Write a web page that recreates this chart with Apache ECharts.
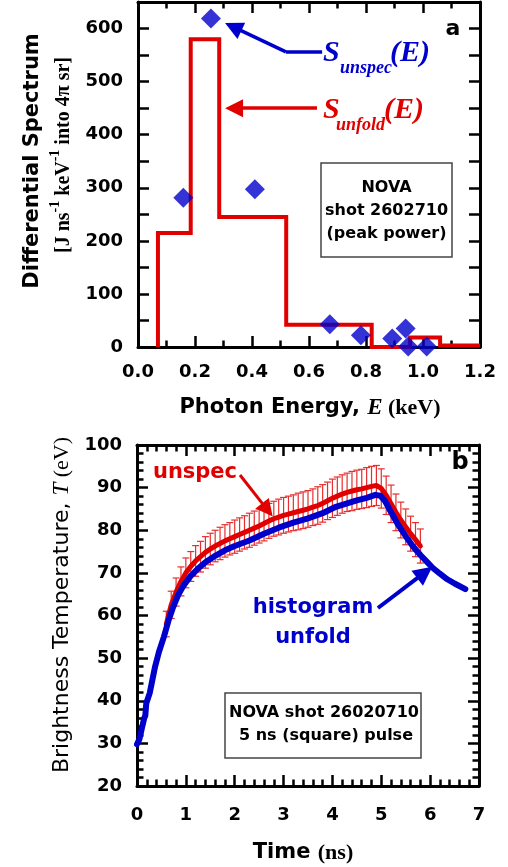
<!DOCTYPE html>
<html>
<head>
<meta charset="utf-8">
<script src="https://cdn.jsdelivr.net/npm/echarts@6/dist/echarts.min.js"></script>
<style>
html, body { margin: 0; padding: 0; background: #fff; }
#chart { width: 508px; height: 867px; }
</style>
</head>
<body>
<div id="chart"></div>
<script>
// panel a: histogram unfold (bin edges in keV, level of each bin)
const unfoldEdges = [0.07, 0.185, 0.285, 0.52, 0.82, 0.955, 1.06, 1.2]
const unfoldLevels = [215, 580, 245, 42, 0, 18, 3]

// panel a: unspec points
const unspecEnergy = [0.159, 0.256, 0.41, 0.673, 0.782, 0.892, 0.939, 0.948, 1.013]
const unspecSpectrum = [281, 619, 297, 43, 22, 16, 35, 1, 1]

// panel b: histogram unfold brightness temperature
const histTime = [0, 0.05, 0.1, 0.15, 0.17, 0.19, 0.26, 0.37, 0.45, 0.55, 0.65, 0.74, 0.85, 0.95, 1.1, 1.25, 1.4, 1.6, 1.8, 2.0,
    2.3, 2.6, 2.9, 3.2, 3.5, 3.8, 4.07, 4.3, 4.5, 4.7, 4.88, 4.98, 5.08, 5.2, 5.35, 5.5, 5.65, 5.8, 5.95, 6.05, 6.2, 6.35, 6.5, 6.72]
const histTemp = [29.8, 31, 33.6, 36, 36.5, 39.4, 41.8, 48, 51.5, 55, 59, 62, 65, 67, 69.3, 71, 72.5, 74, 75.3, 76.3,
    77.6, 79.2, 80.6, 81.8, 82.8, 84, 85.5, 86.3, 87, 87.6, 88.3, 88.1, 86.8, 84.2, 81.2, 78.6, 76.2, 74.2, 72.4, 71.2, 69.8, 68.5, 67.5, 66.2]

// panel b: unspec temperature with error bars
const unspecTime = [0.6, 0.7, 0.8, 0.9, 1.0, 1.1, 1.2, 1.3, 1.4, 1.5, 1.6, 1.7, 1.8, 1.9, 2.0, 2.1, 2.2, 2.3, 2.4, 2.5,
    2.6, 2.7, 2.8, 2.9, 3.0, 3.1, 3.2, 3.3, 3.4, 3.5, 3.6, 3.7, 3.8, 3.9, 4.0, 4.1, 4.2, 4.3, 4.4, 4.5,
    4.6, 4.7, 4.8, 4.9, 5.0, 5.1, 5.2, 5.3, 5.4, 5.5, 5.6, 5.7, 5.8]
const unspecTemp = [58, 62.5, 65.5, 68, 70, 71.5, 72.8, 73.8, 74.8, 75.6, 76.3, 76.9, 77.5, 78, 78.5, 79, 79.5, 80, 80.5, 81,
    81.6, 82.2, 82.7, 83.1, 83.5, 83.8, 84.1, 84.4, 84.7, 85, 85.4, 85.8, 86.3, 86.9, 87.5, 88, 88.5, 88.9, 89.2, 89.5,
    89.7, 90, 90.3, 90.5, 89.8, 88.2, 86.2, 84.2, 82.4, 80.8, 79.2, 77.8, 76.3]
const unspecErr = [3.0, 3.2, 3.3, 3.4, 3.5, 3.5, 3.6, 3.6, 3.7, 3.7, 3.7, 3.8, 3.8, 3.8, 3.9, 3.9, 3.9, 4.0, 4.0, 4.0,
    4.1, 4.1, 4.1, 4.2, 4.2, 4.2, 4.2, 4.3, 4.3, 4.3, 4.3, 4.4, 4.4, 4.4, 4.5, 4.5, 4.5, 4.5, 4.6, 4.6,
    4.6, 4.7, 4.7, 4.7, 4.6, 4.5, 4.4, 4.3, 4.2, 4.2, 4.1, 4.0, 4.0]

const RED = "#e00000"
const BLUE = "#0000cc"
const SANS = "DejaVu Sans"
const SERIF = "Liberation Serif"

// build the step outline from the bins
const unfoldLine = [[unfoldEdges[0], 0]]
unfoldLevels.forEach((level, i) => {
    unfoldLine.push([unfoldEdges[i], level], [unfoldEdges[i + 1], level])
})

function makeAxis(gridIndex, min, max, interval, minorSplit, position, showLabel, formatter, margin) {
    return {
        type: "value",
        gridIndex,
        min,
        max,
        interval,
        position,
        axisLine: { show: true, onZero: false, lineStyle: { color: "#000", width: 3 } },
        axisTick: { show: true, inside: true, length: 11, lineStyle: { color: "#000", width: 2.5 } },
        minorTick: { show: minorSplit > 1, splitNumber: minorSplit, length: 6.5, lineStyle: { color: "#000", width: 2.5 } },
        splitLine: { show: false },
        minorSplitLine: { show: false },
        axisLabel: {
            show: showLabel,
            margin,
            color: "#000",
            fontFamily: SANS,
            fontWeight: "bold",
            fontSize: 18,
            formatter,
            showMinLabel: true,
            showMaxLabel: true,
        },
    }
}

// arrow annotation drawn through the axes of one panel
function arrow(name, axisIndex, coords, color, width, size) {
    return {
        name,
        type: "lines",
        coordinateSystem: "cartesian2d",
        xAxisIndex: axisIndex,
        yAxisIndex: axisIndex,
        symbol: ["none", size ? "triangle" : "none"],
        symbolSize: size || 0,
        lineStyle: { color, width, opacity: 1, curveness: 0 },
        data: [{ coords }],
        z: 6,
    }
}

const fmtA = v => Number(v).toFixed(1)
const fmtAy = v => (Math.round(v) % 100 === 0 && v <= 600 ? String(Math.round(v)) : "")
const fmtInt = v => String(Math.round(v))

const chart = echarts.init(document.getElementById("chart"), null, { renderer: "canvas" })

const centerText = (x, y, text, font, fill, z) => ({
    type: "text", x, y, z: z || 1,
    style: { text, font, fill, align: "center", verticalAlign: "middle" },
})
const leftText = (x, y, text, font, fill) => ({
    type: "text", x, y,
    style: { text, font, fill, align: "left", verticalAlign: "middle" },
})

const option = {
    animation: false,
    backgroundColor: "#fff",
    grid: [
        { left: 138, top: 2, width: 342, height: 345 },
        { left: 137, top: 445, width: 342, height: 341 },
    ],
    xAxis: [
        makeAxis(0, 0, 1.2, 0.2, 2, "bottom", true, fmtA, 16),
        makeAxis(0, 0, 1.2, 0.2, 2, "top", false, fmtA, 8),
        makeAxis(1, 0, 7, 1, 5, "bottom", true, fmtInt, 20),
        makeAxis(1, 0, 7, 1, 5, "top", false, fmtInt, 8),
    ],
    yAxis: [
        makeAxis(0, 0, 650, 50, 1, "left", true, fmtAy, 15),
        makeAxis(0, 0, 650, 50, 1, "right", false, fmtAy, 8),
        makeAxis(1, 20, 100, 10, 5, "left", true, fmtInt, 15),
        makeAxis(1, 20, 100, 10, 5, "right", false, fmtInt, 8),
    ],
    series: [
        {
            name: "S unfold",
            type: "line",
            xAxisIndex: 0,
            yAxisIndex: 0,
            data: unfoldLine,
            showSymbol: false,
            lineStyle: { color: RED, width: 4, join: "miter" },
            z: 3,
        },
        {
            name: "S unspec",
            type: "scatter",
            xAxisIndex: 0,
            yAxisIndex: 0,
            data: unspecEnergy.map((e, i) => [e, unspecSpectrum[i]]),
            symbol: "diamond",
            symbolSize: 20,
            clip: false,
            itemStyle: { color: BLUE },
            z: 5,
        },
        arrow("arrow unspec a tail", 0, [[0.646, 556], [0.519, 556]], BLUE, 3.5, 0),
        arrow("arrow unspec a", 0, [[0.519, 556], [0.334, 603]], BLUE, 3.5, 18),
        arrow("arrow unfold a", 0, [[0.628, 450], [0.337, 450]], RED, 3.5, 18),
        {
            name: "unspec error",
            type: "custom",
            xAxisIndex: 2,
            yAxisIndex: 2,
            data: unspecTime.map((t, i) => [t, unspecTemp[i] - unspecErr[i], unspecTemp[i] + unspecErr[i]]),
            encode: { x: 0, y: [1, 2] },
            renderItem: (params, api) => {
                const lo = api.coord([api.value(0), api.value(1)])
                const hi = api.coord([api.value(0), api.value(2)])
                const w = 3.5
                const style = { stroke: "#e62e2e", lineWidth: 1.2 }
                return {
                    type: "group",
                    children: [
                        { type: "line", shape: { x1: lo[0], y1: lo[1], x2: hi[0], y2: hi[1] }, style },
                        { type: "line", shape: { x1: lo[0] - w, y1: lo[1], x2: lo[0] + w, y2: lo[1] }, style },
                        { type: "line", shape: { x1: hi[0] - w, y1: hi[1], x2: hi[0] + w, y2: hi[1] }, style },
                    ],
                }
            },
            z: 2,
        },
        {
            name: "unspec",
            type: "line",
            xAxisIndex: 2,
            yAxisIndex: 2,
            data: unspecTime.map((t, i) => [t, unspecTemp[i]]),
            showSymbol: false,
            lineStyle: { color: RED, width: 5, join: "round", cap: "round" },
            z: 3,
        },
        {
            name: "histogram unfold",
            type: "line",
            xAxisIndex: 2,
            yAxisIndex: 2,
            data: histTime.map((t, i) => [t, histTemp[i]]),
            showSymbol: false,
            lineStyle: { color: BLUE, width: 6, join: "round", cap: "round" },
            z: 4,
        },
        arrow("arrow unspec b", 2, [[2.108, 92.96], [2.669, 84.77]], RED, 3, 17),
        arrow("arrow hist b", 2, [[4.932, 61.76], [5.89, 70.1]], BLUE, 4, 19),
    ],
    graphic: [
        // axis titles
        {
            type: "text", x: 33, y: 161, rotation: Math.PI / 2,
            style: { text: "Differential Spectrum", font: `bold 21px "${SANS}"`, fill: "#000", align: "center", verticalAlign: "middle" },
        },
        {
            type: "text", x: 61, y: 155, rotation: Math.PI / 2,
            style: {
                text: "{b|[J ns}{sup|-1}{b| keV}{sup|-1}{b| into 4π sr]}",
                align: "center", verticalAlign: "middle", fill: "#000",
                rich: {
                    b: { fontFamily: SERIF, fontWeight: "bold", fontSize: 20, fill: "#000", lineHeight: 26, verticalAlign: "bottom" },
                    sup: { fontFamily: SERIF, fontWeight: "bold", fontSize: 14, fill: "#000", lineHeight: 26, verticalAlign: "top" },
                },
            },
        },
        {
            type: "text", x: 310, y: 408,
            style: {
                text: "{s|Photon Energy, }{i|E}{r| (keV)}",
                align: "center", verticalAlign: "middle", fill: "#000",
                rich: {
                    s: { fontFamily: SANS, fontWeight: "bold", fontSize: 21, fill: "#000" },
                    i: { fontFamily: SERIF, fontStyle: "italic", fontWeight: "bold", fontSize: 23, fill: "#000" },
                    r: { fontFamily: SERIF, fontWeight: "bold", fontSize: 22, fill: "#000" },
                },
            },
        },
        {
            type: "text", x: 62, y: 605, rotation: Math.PI / 2,
            style: {
                text: "{s|Brightness Temperature, }{i|T}{r| (eV)}",
                align: "center", verticalAlign: "middle", fill: "#000",
                rich: {
                    s: { fontFamily: SANS, fontSize: 22, fill: "#000" },
                    i: { fontFamily: SERIF, fontStyle: "italic", fontSize: 23, fill: "#000" },
                    r: { fontFamily: SERIF, fontSize: 22, fill: "#000" },
                },
            },
        },
        {
            type: "text", x: 303, y: 853,
            style: {
                text: "{s|Time }{r|(ns)}",
                align: "center", verticalAlign: "middle", fill: "#000",
                rich: {
                    s: { fontFamily: SANS, fontWeight: "bold", fontSize: 21, fill: "#000" },
                    r: { fontFamily: SERIF, fontWeight: "bold", fontSize: 22, fill: "#000" },
                },
            },
        },
        // panel letters
        centerText(453, 29, "a", `bold 22px "${SANS}"`, "#000"),
        centerText(460, 463, "b", `bold 24px "${SANS}"`, "#000"),
        // panel a annotations
        leftText(323, 53, "S", `italic bold 30px "${SERIF}"`, BLUE),
        leftText(340, 68, "unspec", `italic bold 18px "${SERIF}"`, BLUE),
        leftText(390, 53, "(E)", `italic bold 30px "${SERIF}"`, BLUE),
        leftText(323, 110, "S", `italic bold 30px "${SERIF}"`, RED),
        leftText(336, 125, "unfold", `italic bold 18px "${SERIF}"`, RED),
        leftText(384, 110, "(E)", `italic bold 30px "${SERIF}"`, RED),
        {
            type: "rect", shape: { x: 321, y: 163, width: 131, height: 94 },
            style: { fill: "#fff", stroke: "#444", lineWidth: 1.5 }, z: 10,
        },
        centerText(386.5, 188, "NOVA", `bold 16px "${SANS}"`, "#000", 11),
        centerText(386.5, 211, "shot 2602710", `bold 16px "${SANS}"`, "#000", 11),
        centerText(386.5, 234, "(peak power)", `bold 16px "${SANS}"`, "#000", 11),
        // panel b annotations
        centerText(195, 473, "unspec", `bold 21px "${SANS}"`, RED),
        centerText(313, 608, "histogram", `bold 21px "${SANS}"`, BLUE),
        centerText(313, 638, "unfold", `bold 21px "${SANS}"`, BLUE),
        {
            type: "rect", shape: { x: 225, y: 693, width: 196, height: 65 },
            style: { fill: "#fff", stroke: "#444", lineWidth: 1.5 }, z: 10,
        },
        centerText(324, 713, "NOVA shot 26020710", `bold 16px "${SANS}"`, "#000", 11),
        centerText(326, 736, "5 ns (square) pulse", `bold 16px "${SANS}"`, "#000", 11),
    ],
}

chart.setOption(option)
</script>
</body>
</html>
